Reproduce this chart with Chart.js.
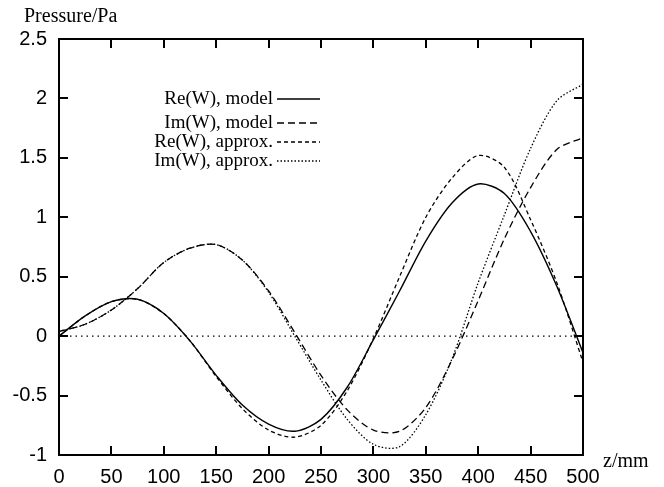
<!DOCTYPE html>
<html>
<head>
<meta charset="utf-8">
<script src="https://cdn.jsdelivr.net/npm/chart.js@4.4.1/dist/chart.umd.min.js"></script>
<style>
  html, body { margin: 0; background: #fff; }
  #wrap { width: 664px; height: 487px; position: relative; }
</style>
</head>
<body>
<div id="wrap"><canvas id="chart"></canvas></div>
<script>
const zValues   = [0, 25, 50, 75, 100, 125, 150, 175, 200, 225, 250, 275, 300, 325, 350, 375, 400, 425, 450, 475, 500];
const reModel   = [0, 0.17, 0.29, 0.31, 0.19, -0.04, -0.33, -0.58, -0.74, -0.80, -0.70, -0.43, -0.03, 0.38, 0.80, 1.12, 1.28, 1.20, 0.88, 0.42, -0.14];
const imModel   = [0.04, 0.10, 0.22, 0.40, 0.62, 0.74, 0.77, 0.64, 0.38, 0.03, -0.33, -0.62, -0.79, -0.80, -0.60, -0.20, 0.30, 0.82, 1.25, 1.57, 1.67];
const reApprox  = [0, 0.17, 0.29, 0.31, 0.19, -0.04, -0.34, -0.61, -0.79, -0.85, -0.75, -0.46, -0.02, 0.50, 1.00, 1.33, 1.52, 1.42, 0.98, 0.45, -0.22];
const imApprox  = [0.04, 0.10, 0.22, 0.40, 0.62, 0.74, 0.77, 0.64, 0.37, 0.0, -0.37, -0.70, -0.91, -0.93, -0.66, -0.19, 0.45, 1.02, 1.58, 1.98, 2.12];
const seriesLabels = ['Re(W), model', 'Im(W), model', 'Re(W), approx.', 'Im(W), approx.'];
const zeroLine  = [0, 0];
const zeroZ     = [0, 500];

const xTicks = [0, 50, 100, 150, 200, 250, 300, 350, 400, 450, 500];
const yTicks = [-1, -0.5, 0, 0.5, 1, 1.5, 2, 2.5];

const toPoints = (xs, ys) => xs.map((x, i) => ({ x, y: ys[i] }));

const styles = [
  { dash: [], width: 1.4 },
  { dash: [7, 4], width: 1.3 },
  { dash: [4, 3], width: 1.3 },
  { dash: [1.5, 2], width: 1.3 }
];

const datasets = [reModel, imModel, reApprox, imApprox].map((values, i) => ({
  label: seriesLabels[i],
  data: toPoints(zValues, values),
  borderColor: '#000',
  borderWidth: styles[i].width,
  borderDash: styles[i].dash,
  pointRadius: 0,
  tension: 0.3,
  fill: false
}));

datasets.push({
  label: 'zero',
  data: toPoints(zeroZ, zeroLine),
  borderColor: '#000',
  borderWidth: 1.2,
  borderDash: [1.5, 4],
  pointRadius: 0,
  fill: false
});

// frame, inward ticks, axis titles and the right-aligned legend
const decorations = {
  id: 'decorations',
  afterDraw(chart) {
    const { ctx, chartArea: a, scales } = chart;
    ctx.save();
    ctx.strokeStyle = '#000';
    ctx.lineWidth = 2;
    ctx.setLineDash([]);
    ctx.strokeRect(a.left, a.top, a.right - a.left, a.bottom - a.top);

    const len = 9;
    ctx.beginPath();
    xTicks.forEach(v => {
      const px = Math.round(scales.x.getPixelForValue(v));
      ctx.moveTo(px, a.bottom); ctx.lineTo(px, a.bottom - len);
      ctx.moveTo(px, a.top); ctx.lineTo(px, a.top + len);
    });
    yTicks.forEach(v => {
      const py = Math.round(scales.y.getPixelForValue(v));
      ctx.moveTo(a.left, py); ctx.lineTo(a.left + len, py);
      ctx.moveTo(a.right, py); ctx.lineTo(a.right - len, py);
    });
    ctx.stroke();

    ctx.fillStyle = '#000';
    ctx.font = '20px "Liberation Serif"';
    ctx.textBaseline = 'alphabetic';
    ctx.textAlign = 'left';
    ctx.fillText('Pressure/Pa', 24, 22);
    ctx.fillText('z/mm', 603, 467);

    // legend
    const rows = [98, 122, 141, 160];
    ctx.textAlign = 'right';
    ctx.textBaseline = 'middle';
    ctx.font = '19px "Liberation Serif"';
    chart.data.datasets.slice(0, 4).forEach((ds, i) => {
      const y = rows[i];
      ctx.fillText(ds.label, 273, y + 1);
      ctx.beginPath();
      ctx.lineWidth = ds.borderWidth;
      ctx.setLineDash(ds.borderDash);
      ctx.moveTo(277, y + 1);
      ctx.lineTo(320, y + 1);
      ctx.stroke();
    });
    ctx.restore();
  }
};

Chart.defaults.font.family = '"Liberation Sans", Arial, sans-serif';
Chart.defaults.color = '#000';

new Chart(document.getElementById('chart'), {
  type: 'line',
  data: { datasets },
  options: {
    responsive: true,
    maintainAspectRatio: false,
    animation: false,
    layout: { padding: { top: 39, right: 81, left: 0, bottom: 0 } },
    plugins: { legend: { display: false }, tooltip: { enabled: false } },
    scales: {
      x: {
        type: 'linear',
        min: 0,
        max: 500,
        afterBuildTicks: scale => { scale.ticks = xTicks.map(v => ({ value: v })); },
        afterFit: scale => { scale.height = 32; },
        grid: { display: false, drawTicks: false },
        border: { display: false },
        ticks: { font: { size: 20 }, padding: 10, maxRotation: 0, callback: v => String(v) }
      },
      y: {
        type: 'linear',
        min: -1,
        max: 2.5,
        afterBuildTicks: scale => { scale.ticks = yTicks.map(v => ({ value: v })); },
        afterFit: scale => { scale.width = 59; },
        grid: { display: false, drawTicks: false },
        border: { display: false },
        ticks: { font: { size: 20 }, padding: 12, callback: v => String(v) }
      }
    }
  },
  plugins: [decorations]
});
</script>
</body>
</html>
